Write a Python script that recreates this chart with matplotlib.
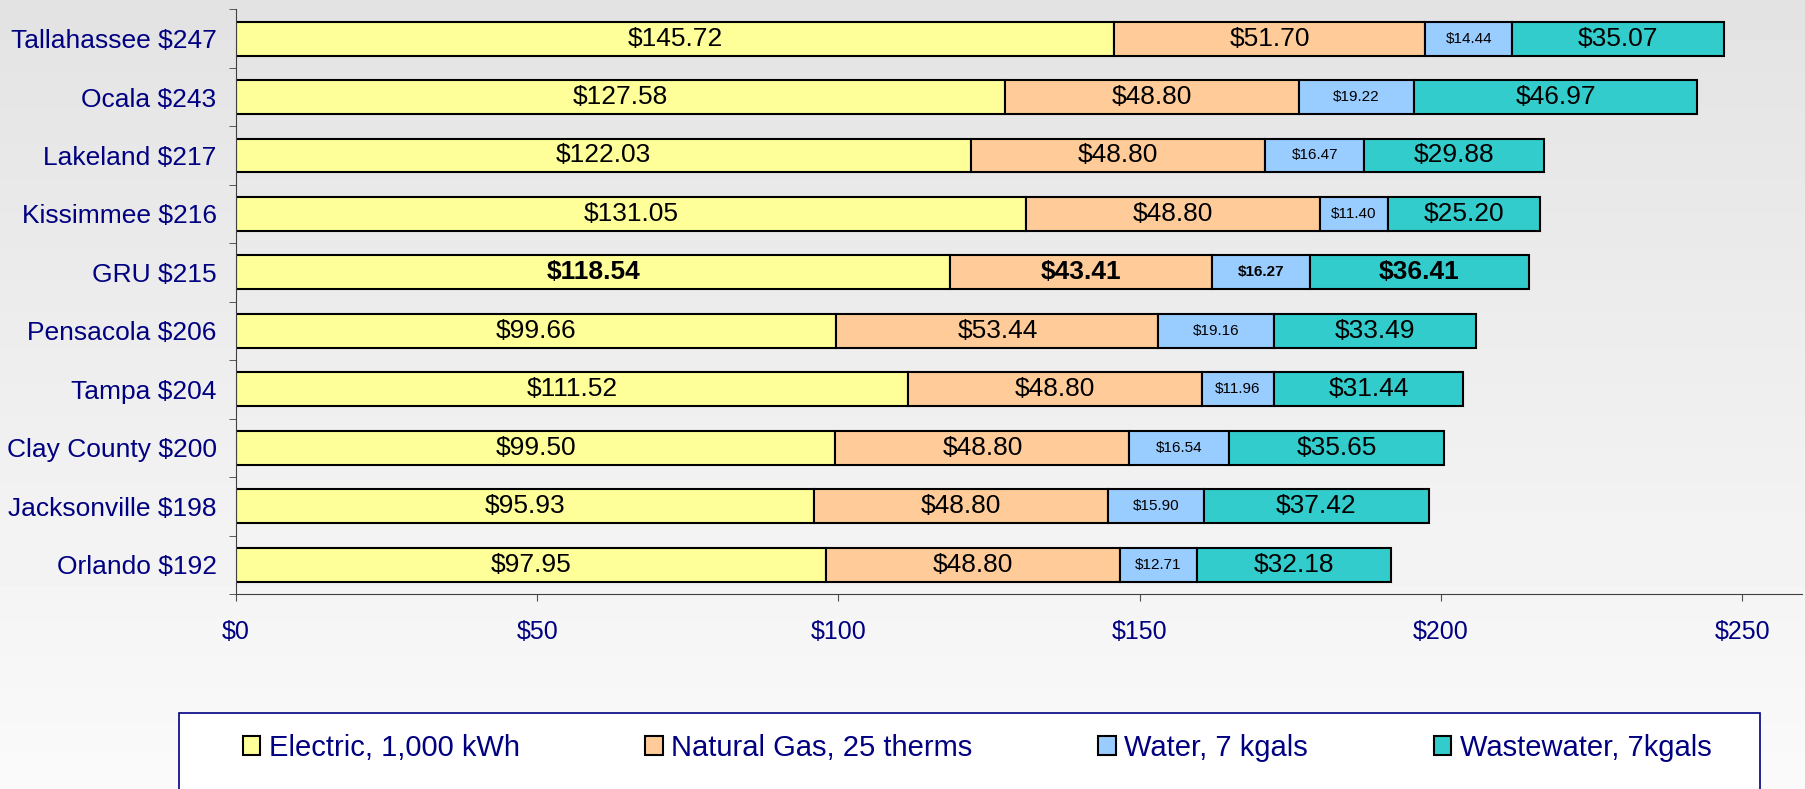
import numpy as np
import matplotlib
matplotlib.use("Agg")
import matplotlib.pyplot as plt
from matplotlib.patches import Rectangle, Patch

plt.rcParams['font.family'] = ['Liberation Sans', 'DejaVu Sans']

cities = ["Tallahassee $247", "Ocala $243", "Lakeland $217", "Kissimmee $216", "GRU $215",
          "Pensacola $206", "Tampa $204", "Clay County $200", "Jacksonville $198", "Orlando $192"]
electric = [145.72, 127.58, 122.03, 131.05, 118.54, 99.66, 111.52, 99.50, 95.93, 97.95]
gas = [51.70, 48.80, 48.80, 48.80, 43.41, 53.44, 48.80, 48.80, 48.80, 48.80]
water = [14.44, 19.22, 16.47, 11.40, 16.27, 19.16, 11.96, 16.54, 15.90, 12.71]
wastewater = [35.07, 46.97, 29.88, 25.20, 36.41, 33.49, 31.44, 35.65, 37.42, 32.18]
series_names = ["Electric, 1,000 kWh", "Natural Gas, 25 therms", "Water, 7 kgals", "Wastewater, 7kgals"]
colors = ["#FFFF99", "#FFCC99", "#99CCFF", "#33CCCC"]
xticks = [0, 50, 100, 150, 200, 250]
highlight = "GRU $215"

navy = "#000080"
fig = plt.figure(figsize=(18.06, 7.89), dpi=100)

# gradient background
bg = fig.add_axes([0, 0, 1, 1], zorder=-10)
grad = np.linspace(0.89, 0.98, 256).reshape(-1, 1)
bg.imshow(grad, aspect='auto', cmap='gray', vmin=0, vmax=1, extent=[0, 1, 0, 1])
bg.axis('off')

ax = fig.add_axes([0.1307, 0.2471, 0.8673, 0.7411])
ax.patch.set_alpha(0)

y = np.arange(len(cities))
series = [electric, gas, water, wastewater]
left = np.zeros(len(cities))
for k, (vals, c) in enumerate(zip(series, colors)):
    vals = np.array(vals)
    ax.barh(y, vals, left=left, height=0.58, color=c, edgecolor='black', linewidth=1.5)
    for i, v in enumerate(vals):
        bold = cities[i] == highlight
        small = k == 2
        ax.text(left[i] + v / 2, y[i], "$%.2f" % v, ha='center', va='center',
                fontsize=11 if small else 19, fontweight='bold' if bold else 'normal',
                color='black')
    left += vals

ax.set_xlim(0, 260)
ax.set_ylim(len(cities) - 0.5, -0.5)
ax.set_xticks(xticks)
ax.set_xticklabels(["$%d" % t for t in xticks], color=navy, fontsize=18)
ax.tick_params(axis='x', length=5, pad=14, color='#505050')
ax.set_yticks(y)
ax.set_yticklabels(cities, color=navy, fontsize=19)
ax.set_yticks(np.arange(len(cities) + 1) - 0.5, minor=True)
ax.tick_params(axis='y', which='major', length=0, pad=14)
ax.tick_params(axis='y', which='minor', length=5, color='#404040')
for s in ['top', 'right']:
    ax.spines[s].set_visible(False)
for s in ['left', 'bottom']:
    ax.spines[s].set_color('#404040')

# legend box
fig.patches.append(Rectangle((179 / 1806, -0.05), (1760 - 179) / 1806, 0.05 + (789 - 713) / 789,
                             transform=fig.transFigure, facecolor='white', edgecolor=navy,
                             linewidth=1.2, zorder=1))
handles = [Patch(facecolor=c, edgecolor='black', linewidth=1.5) for c in colors]
leg = fig.legend(handles, series_names, loc='center', bbox_to_anchor=(0.541, 1 - 748 / 789),
                 ncol=4, frameon=False, fontsize=21, handlelength=0.6, handleheight=0.6,
                 handletextpad=0.3, columnspacing=4.3)
for t in leg.get_texts():
    t.set_color(navy)

fig.savefig("out.png", dpi=100)
